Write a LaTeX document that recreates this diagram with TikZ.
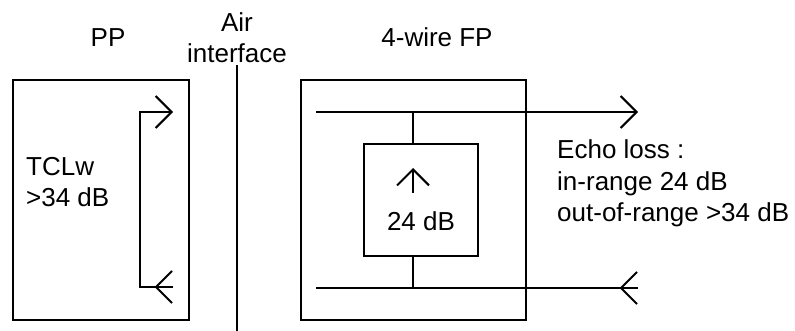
\documentclass[tikz,border=0pt]{standalone}
\usepackage{fontspec}
\setmainfont{Liberation Sans}
\usetikzlibrary{arrows.meta,positioning}
\tikzset{
  box/.style={draw,line width=2pt,inner sep=0pt},
  lbl/.style={font=\fontsize{26}{31.5}\selectfont,inner sep=0pt},
  sig/.style={line width=2pt},
  tipout/.style={-{Straight Barb[length=16pt,width=32pt]}},
  tipin/.style={-{Straight Barb[reversed,length=16pt,width=32pt]}}
}
\begin{document}
\begin{tikzpicture}[x=1pt,y=-1pt]
  \useasboundingbox (0,0) rectangle (795,331);
  % boxes
  \node[box,minimum width=176pt,minimum height=240pt] (pp) at (101,200) {};
  \node[box,minimum width=225pt,minimum height=240pt] (fp) at (413.5,200) {};
  \node[box,minimum width=114pt,minimum height=112pt] (att) at (421,200) {};
  % labels (base = last line)
  \node[lbl,anchor=base] (pplbl) at (108,47) {PP};
  \node[lbl,anchor=base,align=center] (airlbl) at (237,63) {Air\\interface};
  \node[lbl,anchor=base] (fplbl) at (437,47) {4-wire FP};
  \node[lbl,anchor=base west,align=left] (tcl) at (26,207) {TCLw\\>34 dB};
  \node[lbl,anchor=base] (attlbl) at (421,230) {24 dB};
  \node[lbl,anchor=base west,align=left] (echo) at (557,222) {Echo loss :\\in-range 24 dB\\out-of-range >34 dB};
  % air interface
  \coordinate (air1) at (237,65);
  \coordinate (air2) at (237,331);
  \draw[sig] (air1) -- (air2);
  % PP loop
  \coordinate (ppout) at (173,112);
  \coordinate (ppin) at (173,287);
  \draw[sig,tipout] (ppin) -- (140,287) -- (140,112) -- (ppout);
  \draw[sig,tipin] (140,287) -- (ppin);
  % FP paths
  \coordinate (fpa) at (316,112);
  \coordinate (fpb) at (638,112);
  \coordinate (fpc) at (316,288);
  \coordinate (fpd) at (638,288);
  \draw[sig,tipout] (fpa) -- (fpb);
  \draw[sig] (fpc) -- (fpd);
  \draw[sig,tipin] (fpc) -- (fpd);
  \draw[sig] (413,112) -- (413,200 |- att.north);
  \draw[sig] (413,200 |- att.south) -- (413,288);
  \draw[sig,tipout] (413,193) -- (413,168);
\end{tikzpicture}
\end{document}
